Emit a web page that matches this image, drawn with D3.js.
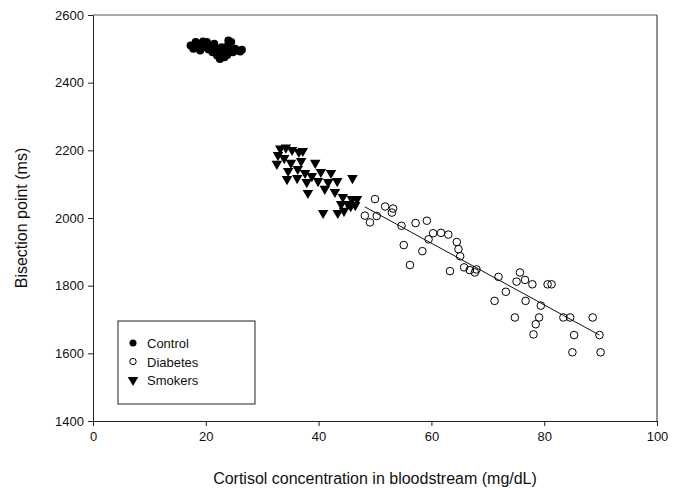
<!DOCTYPE html>
<html>
<head>
<meta charset="utf-8">
<script src="https://cdn.jsdelivr.net/npm/d3@7"></script>
<style>
  body { margin: 0; background: #fff; }
  text { font-family: Arial, "Liberation Sans", sans-serif; }
</style>
</head>
<body>
<div id="chart-area"></div>
<script>
// Data
let controlX = [17.3, 17.8, 18.2, 18.6, 19.0, 19.3, 19.8, 20.2, 20.5, 20.8, 21.2, 21.5, 21.8, 22.0, 22.3, 22.5, 22.8, 23.0, 23.3, 23.6, 23.9, 24.2, 24.5, 24.8, 25.2, 25.6, 26.1, 26.4, 19.5, 21.0, 22.6, 23.8, 18.0, 20.0, 24.0];
let controlY = [2510, 2500, 2520, 2505, 2495, 2515, 2505, 2520, 2498, 2510, 2490, 2515, 2500, 2480, 2495, 2470, 2505, 2485, 2475, 2495, 2510, 2500, 2520, 2490, 2500, 2495, 2492, 2497, 2522, 2503, 2488, 2482, 2512, 2508, 2525];

let diabetesX = [50.0, 51.8, 53.2, 53.0, 48.2, 50.3, 49.1, 54.7, 57.2, 59.2, 55.1, 60.3, 61.7, 63.0, 59.5, 64.5, 64.8, 58.4, 65.1, 56.2, 63.3, 65.8, 66.8, 68.0, 67.7, 71.9, 75.7, 75.1, 76.6, 77.9, 80.6, 81.3, 73.2, 71.2, 76.7, 79.4, 74.8, 79.1, 78.5, 78.1, 83.4, 84.6, 88.6, 85.3, 89.8, 85.0, 90.0];
let diabetesY = [2056, 2034, 2028, 2016, 2007, 2006, 1987, 1977, 1985, 1992, 1920, 1955, 1956, 1951, 1937, 1929, 1908, 1902, 1887, 1861, 1843, 1854, 1846, 1848, 1839, 1826, 1839, 1812, 1817, 1804, 1804, 1804, 1782, 1755, 1755, 1741, 1706, 1706, 1686, 1656, 1706, 1706, 1706, 1654, 1654, 1603, 1603];

let smokersX = [33.2, 34.2, 35.3, 36.5, 37.2, 32.8, 33.9, 32.6, 35.1, 36.9, 39.4, 34.6, 36.3, 37.6, 38.8, 40.4, 42.2, 34.4, 36.2, 37.9, 39.9, 41.7, 43.3, 46.0, 38.1, 41.1, 42.9, 44.3, 45.9, 46.8, 44.0, 45.2, 40.8, 43.4, 44.5, 45.7, 46.5];
let smokersY = [2205, 2208, 2201, 2195, 2198, 2186, 2177, 2160, 2163, 2168, 2163, 2139, 2145, 2133, 2124, 2136, 2133, 2115, 2118, 2106, 2109, 2106, 2109, 2118, 2074, 2086, 2077, 2062, 2056, 2056, 2041, 2041, 2015, 2015, 2021, 2035, 2038];

// Regression line through the diabetes group
let fitX = [48.2, 89.8];
let fitY = [2033, 1654];

let xTicks = [0, 20, 40, 60, 80, 100];
let yTicks = [1400, 1600, 1800, 2000, 2200, 2400, 2600];
let groups = ["Control", "Diabetes", "Smokers"];

// SVG drawing area
let margin = {top: 15, right: 26, bottom: 72, left: 93};
let width = 683 - margin.left - margin.right,
    height = 493 - margin.top - margin.bottom;

let svg = d3.select("#chart-area").append("svg")
    .attr("width", 683)
    .attr("height", 493)
  .append("g")
    .attr("transform", "translate(" + margin.left + "," + margin.top + ")");

let xScale = d3.scaleLinear().domain([0, 100]).range([0, width]);
let yScale = d3.scaleLinear().domain([1400, 2600]).range([height, 0]);

// frame (top and right)
svg.append("line")
    .attr("x1", 0).attr("x2", width).attr("y1", 0).attr("y2", 0)
    .attr("stroke", "#555").attr("stroke-width", 1);
svg.append("line")
    .attr("x1", width).attr("x2", width).attr("y1", 0).attr("y2", height)
    .attr("stroke", "#222").attr("stroke-width", 1);

let xAxis = d3.axisBottom(xScale).tickValues(xTicks).tickFormat(d3.format("d"))
    .tickSize(5).tickSizeOuter(0).tickPadding(6);
let yAxis = d3.axisLeft(yScale).tickValues(yTicks).tickFormat(d3.format("d"))
    .tickSize(5).tickSizeOuter(0).tickPadding(4);

svg.append("g")
    .attr("class", "axis x-axis")
    .attr("transform", "translate(0," + height + ")")
    .call(xAxis);
svg.append("g")
    .attr("class", "axis y-axis")
    .call(yAxis);

svg.selectAll(".axis text")
    .style("font-size", "13px")
    .attr("fill", "#111");
svg.selectAll(".axis path, .axis line").attr("stroke", "#222");

// axis titles
svg.append("text")
    .attr("x", width / 2)
    .attr("y", height + 63)
    .attr("text-anchor", "middle")
    .style("font-size", "16px")
    .attr("fill", "#111")
    .text("Cortisol concentration in bloodstream (mg/dL)");
svg.append("text")
    .attr("transform", "translate(" + (-66) + "," + (height / 2) + ") rotate(-90)")
    .attr("text-anchor", "middle")
    .style("font-size", "16px")
    .attr("fill", "#111")
    .text("Bisection point (ms)");

// regression line
let line = d3.line()
    .x(function(d) { return xScale(d[0]); })
    .y(function(d) { return yScale(d[1]); });
svg.append("path")
    .attr("d", line(d3.zip(fitX, fitY)))
    .attr("fill", "none")
    .attr("stroke", "#111")
    .attr("stroke-width", 1);

let tri = d3.symbol().type(d3.symbolTriangle).size(48);

// control
svg.append("g").selectAll("circle")
    .data(d3.zip(controlX, controlY))
    .enter().append("circle")
    .attr("cx", function(d) { return xScale(d[0]); })
    .attr("cy", function(d) { return yScale(d[1]); })
    .attr("r", 4)
    .attr("fill", "#000");

// diabetes
svg.append("g").selectAll("circle")
    .data(d3.zip(diabetesX, diabetesY))
    .enter().append("circle")
    .attr("cx", function(d) { return xScale(d[0]); })
    .attr("cy", function(d) { return yScale(d[1]); })
    .attr("r", 3.8)
    .attr("fill", "none")
    .attr("stroke", "#000")
    .attr("stroke-width", 1);

// smokers
svg.append("g").selectAll("path")
    .data(d3.zip(smokersX, smokersY))
    .enter().append("path")
    .attr("d", tri)
    .attr("transform", function(d) { return "translate(" + xScale(d[0]) + "," + yScale(d[1]) + ") rotate(180)"; })
    .attr("fill", "#000");

// legend
let legend = svg.append("g").attr("transform", "translate(25,306)");
legend.append("rect")
    .attr("x", 0).attr("y", 0).attr("width", 137).attr("height", 83)
    .attr("fill", "#fff").attr("stroke", "#222").attr("stroke-width", 1);
groups.forEach(function(g, i) {
    let y = 22 + i * 18.5;
    if (i === 0) {
        legend.append("circle").attr("cx", 15).attr("cy", y).attr("r", 3.5).attr("fill", "#000");
    } else if (i === 1) {
        legend.append("circle").attr("cx", 15).attr("cy", y).attr("r", 3.2)
            .attr("fill", "none").attr("stroke", "#000");
    } else {
        legend.append("path").attr("d", tri)
            .attr("transform", "translate(15," + y + ") rotate(180)").attr("fill", "#000");
    }
    legend.append("text")
        .attr("x", 29).attr("y", y + 5)
        .style("font-size", "13px")
        .attr("fill", "#111")
        .text(g);
});
</script>
</body>
</html>
